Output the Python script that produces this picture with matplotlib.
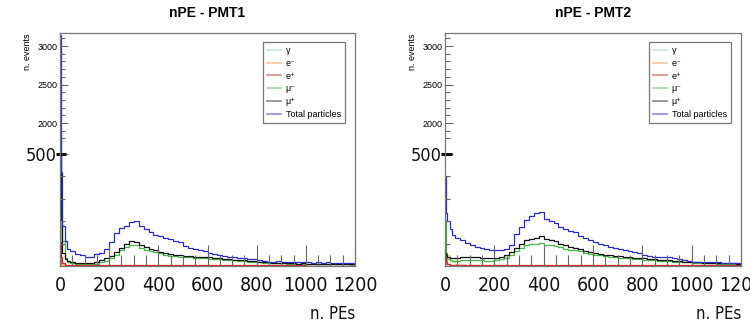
import numpy as np
import matplotlib
matplotlib.use("Agg")
import matplotlib.pyplot as plt
from matplotlib import font_manager as fm
from matplotlib.lines import Line2D

# fonts: Helvetica-like for ROOT text, narrow one for the pasted-on labels
BASE = ["Liberation Sans", "DejaVu Sans"]
plt.rcParams["font.family"] = BASE

narrow = None
for f in fm.fontManager.ttflist:
    st = str(f.stretch).lower()
    is_narrow = ("Narrow" in f.name or "Condensed" in f.name
                 or st in ("condensed", "semi-condensed", "extra-condensed", "ultra-condensed"))
    regular = str(f.weight).lower() in ("400", "normal", "regular", "book") and f.style == "normal"
    if is_narrow and regular:
        narrow = f
        break
if narrow is not None:
    NARROW = fm.FontProperties(fname=narrow.fname)
else:
    NARROW = fm.FontProperties(family="DejaVu Sans")

# bin edges (n. PEs)
edges = np.r_[[0, 5, 10, 20, 30], np.arange(40, 1201, 20)]
small_edges = [0, 5, 10, 20, 40, 80, 150, 250, 400, 600, 800, 1000, 1200]

# ---- PMT1 ----
pmt1_total = [3150, 420, 180, 110, 75,
              65, 55, 50, 38, 40, 52, 60, 78, 105, 148,
              172, 180, 195, 200, 178, 165, 150, 138, 132, 125,
              120, 112, 105, 88, 80, 74, 70, 65, 58, 55,
              50, 46, 42, 40, 36, 35, 33, 30, 27, 24,
              20, 19, 21, 18, 19, 17, 18, 16, 17, 15,
              16, 15, 17, 14, 15, 13, 14, 12]
pmt1_mup = [1300, 200, 60, 30, 22,
            18, 15, 14, 13, 15, 18, 25, 35, 45, 62,
            82, 98, 110, 106, 92, 84, 76, 70, 64, 58,
            52, 49, 47, 46, 43, 42, 41, 40, 38, 36,
            35, 33, 31, 29, 27, 25, 23, 21, 19, 17,
            16, 14, 13, 13, 12, 13, 11, 12, 11, 10,
            11, 9, 10, 9, 8, 9, 8, 7]
pmt1_mum = [1870, 300, 110, 35, 18,
            12, 10, 9, 8, 9, 11, 16, 24, 34, 50,
            70, 85, 94, 92, 80, 73, 66, 61, 56, 51,
            46, 43, 41, 40, 38, 37, 36, 35, 33, 31,
            30, 29, 27, 25, 24, 22, 20, 18, 17, 15,
            14, 13, 12, 12, 11, 10, 11, 9, 10, 9,
            8, 9, 8, 7, 8, 7, 7, 6]
pmt1_ep = [105, 40, 15, 6, 5, 4, 5, 4, 4, 3, 3, 2]
pmt1_em = [60, 15, 6, 3, 2, 2, 2, 2, 1, 1, 1, 1]
pmt1_gamma = [40, 20, 8, 3, 2, 2, 1, 1, 1, 1, 0, 0]

# ---- PMT2 ----
pmt2_total = [400, 235, 200, 165, 140,
              125, 115, 103, 92, 85, 80, 76, 72, 70, 72,
              78, 92, 145, 175, 205, 225, 235, 242, 212, 200,
              192, 176, 165, 158, 150, 133, 125, 116, 108, 100,
              94, 86, 80, 75, 71, 67, 64, 56, 50, 45,
              42, 42, 41, 38, 36, 32, 28, 24, 20, 19,
              18, 19, 17, 17, 15, 14, 12, 12]
pmt2_mup = [60, 50, 42, 36, 34,
            36, 40, 42, 40, 38, 36, 35, 34, 36, 40,
            48, 62, 80, 100, 116, 120, 124, 134, 120, 116,
            110, 100, 92, 86, 82, 78, 68, 62, 58, 54,
            50, 47, 45, 43, 42, 40, 37, 35, 34, 32,
            30, 28, 27, 25, 23, 21, 19, 18, 17, 16,
            15, 14, 14, 13, 13, 12, 12, 11]
pmt2_mum = [200, 60, 30, 25, 22,
            24, 26, 28, 27, 26, 25, 24, 24, 26, 30,
            36, 48, 65, 82, 95, 98, 100, 104, 96, 94,
            90, 84, 78, 73, 70, 66, 58, 54, 50, 47,
            44, 41, 39, 37, 36, 34, 32, 30, 29, 28,
            26, 24, 23, 22, 20, 18, 17, 16, 15, 14,
            13, 12, 12, 11, 11, 10, 10, 9]
pmt2_ep = [50, 20, 10, 6, 5, 5, 5, 5, 4, 4, 3, 3]
pmt2_em = [60, 25, 10, 5, 3, 2, 2, 2, 1, 1, 1, 1]
pmt2_gamma = [30, 60, 50, 20, 8, 4, 3, 2, 2, 1, 1, 1]

labels = ["\u03b3", "e\u207b", "e\u207a", "\u03bc\u207b", "\u03bc\u207a", "Total particles"]
line_colors = ["#e6e8b0", "#f0a060", "#dd2222", "#44bb44", "#111111", "#2a2acc"]
legend_colors = ["#c8e6dc", "#f2c7a5", "#d98c8c", "#9ed69e", "#888888", "#8c8ce6"]

# broken y axis: 0-500 stretched, 500-1600 cut out, above that compressed
Y_NODES = [0, 500, 1600, 10000]
P_NODES = [0, 112, 112.3, 112.3 + 8400 * 0.077]


def fwd(v):
    return np.interp(v, Y_NODES, P_NODES)


def inv(p):
    return np.interp(p, P_NODES, Y_NODES)


fig = plt.figure(figsize=(7.5, 3.31), dpi=100)
W, H = 750, 331


def narrow_font(size):
    fp = NARROW.copy()
    fp.set_size(size)
    return fp


def panel(x0, x1, title, total, mup, mum, ep, em, gamma):
    ax = fig.add_axes([x0 / W, (H - 266) / H, (x1 - x0) / W, 233 / H])
    ax.set_yscale("function", functions=(fwd, inv))

    ax.stairs(gamma, small_edges, color=line_colors[0], lw=0.9)
    ax.stairs(em, small_edges, color=line_colors[1], lw=0.9)
    ax.stairs(mum, edges, color=line_colors[3], lw=0.9)
    ax.stairs(ep, small_edges, color=line_colors[2], lw=0.9)
    ax.stairs(mup, edges, color=line_colors[4], lw=0.9)
    ax.stairs(total, edges, color=line_colors[5], lw=0.9)

    ax.set_xlim(0, 1200)
    ax.set_ylim(0, 3170)

    for s in ax.spines.values():
        s.set_color("#777777")
        s.set_linewidth(0.9)

    # x axis ticks going up into the frame
    ax.set_xticks(np.arange(0, 1201, 200))
    ax.set_xticks(np.arange(50, 1200, 50), minor=True)
    ax.tick_params(axis="x", which="major", direction="in", length=15, width=0.8,
                   color="#666666", pad=7)
    ax.tick_params(axis="x", which="minor", direction="in", length=8, width=0.8,
                   color="#666666")
    for t in ax.get_xticklabels():
        t.set_fontproperties(narrow_font(14))
        t.set_color("#111111")

    ax.set_yticks([500, 2000, 2500, 3000])
    ax.set_yticklabels(["500", "2000", "2500", "3000"])
    ax.set_yticks([100, 200, 300, 400] + list(range(1800, 3200, 100)), minor=True)
    ax.tick_params(axis="y", which="major", direction="in", length=6, width=0.8,
                   color="#666666", pad=2, labelsize=6.5)
    ax.tick_params(axis="y", which="minor", direction="in", length=3.5, width=0.8,
                   color="#666666")
    for t in ax.get_yticklabels():
        if t.get_text() == "500":
            t.set_fontproperties(narrow_font(13))
            t.set_color("#111111")
    ax.plot([-0.012, 0.022], [500, 500], transform=ax.get_yaxis_transform(),
            color="#111111", lw=2.2, clip_on=False, solid_capstyle="butt")

    ax.text(0.5, (266 - 13) / 233, title, transform=ax.transAxes, ha="center",
            va="center", fontsize=10, fontweight="bold")
    ax.text(-33 / (x1 - x0), 1.0, "n. events", transform=ax.transAxes, rotation=90,
            ha="center", va="top", fontsize=6.5)
    ax.text(1.0, (266 - 314) / 233, "n. PEs", transform=ax.transAxes, ha="right",
            va="center", fontproperties=narrow_font(12), color="#111111")

    handles = [Line2D([], [], color=c, lw=1.2) for c in legend_colors]
    leg = ax.legend(handles, labels, loc="upper right",
                    bbox_to_anchor=(1 - 10 / (x1 - x0), 1 - 9 / 233),
                    prop={"family": BASE, "size": 6.5}, frameon=True, fancybox=False,
                    handlelength=1.6, handletextpad=0.5, labelspacing=0.42,
                    borderpad=0.45, borderaxespad=0)
    leg.get_frame().set_edgecolor("#555555")
    leg.get_frame().set_linewidth(0.9)
    return ax


panel(60, 355, "nPE - PMT1", pmt1_total, pmt1_mup, pmt1_mum, pmt1_ep, pmt1_em, pmt1_gamma)
panel(445, 741, "nPE - PMT2", pmt2_total, pmt2_mup, pmt2_mum, pmt2_ep, pmt2_em, pmt2_gamma)

fig.savefig("out.png", dpi=100)
